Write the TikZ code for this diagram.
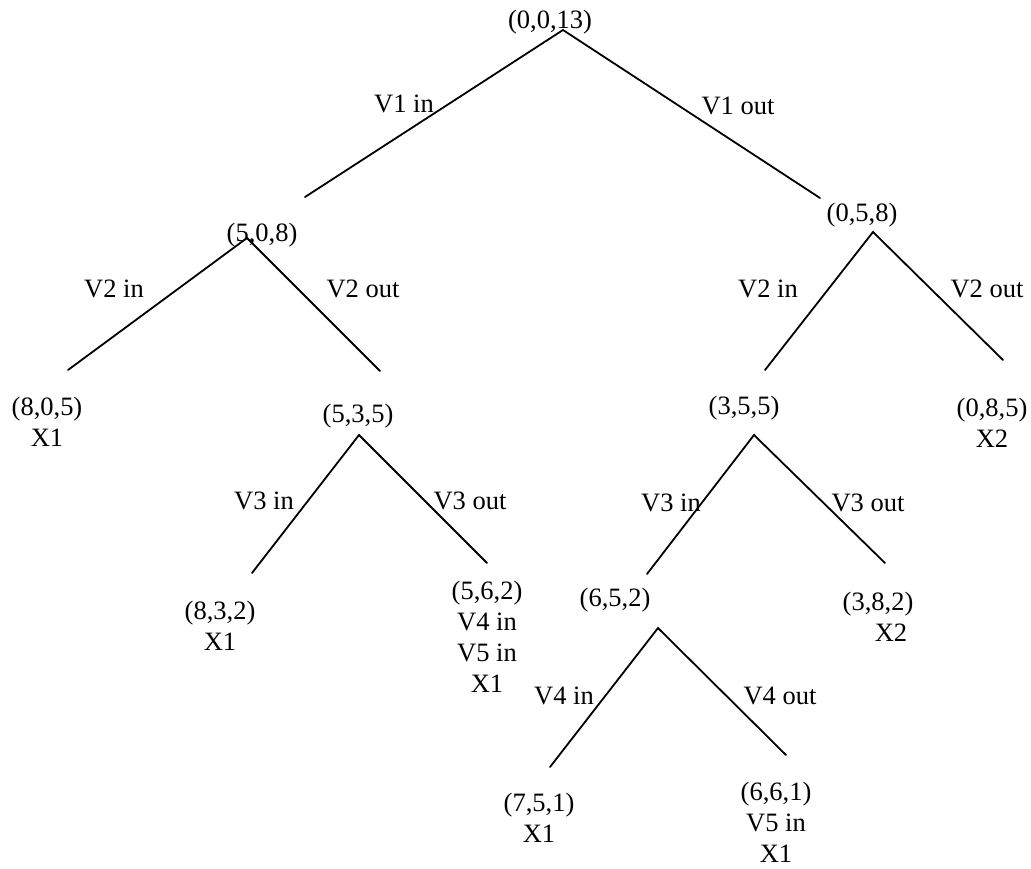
\documentclass[tikz,border=0pt]{standalone}
\usepackage{fontspec}
\setmainfont{Liberation Serif}
\begin{document}
\begin{tikzpicture}[x=1pt,y=-1pt,
  every node/.style={inner sep=0pt,outer sep=0pt,font=\fontsize{26.5}{31}\selectfont},
  state/.style={align=center},
  branch/.style={},
  edge/.style={line width=1.8pt,line cap=round}]
\useasboundingbox (0,0) rectangle (1031,868);

% states of the search
\node[state] (r)    at (550,22)  {(0,0,13)};
\node[state] (a)    at (262,235) {(5,0,8)};
\node[state] (b)    at (862,215) {(0,5,8)};
\node[state] (aa)   at (47,422)  {(8,0,5)\\X1};
\node[state] (ab)   at (358,416) {(5,3,5)};
\node[state] (ba)   at (744,408) {(3,5,5)};
\node[state] (bb)   at (992,423) {(0,8,5)\\X2};
\node[state] (aba)  at (220,626) {(8,3,2)\\X1};
\node[state] (abb)  at (487,637) {(5,6,2)\\V4 in\\V5 in\\X1};
\node[state] (baa)  at (615,600) {(6,5,2)};
\node[state] (bab)  at (878,617) {(3,8,2)\\\hspace*{26pt}X2};
\node[state] (baaa) at (539,818) {(7,5,1)\\X1};
\node[state] (baab) at (776,822) {(6,6,1)\\V5 in\\X1};

% branch end points
\coordinate (r-o)    at (563,30);
\coordinate (a-i)    at (305,197);
\coordinate (b-i)    at (820,198);
\coordinate (a-o)    at (247,238);
\coordinate (aa-i)   at (68,370);
\coordinate (ab-i)   at (380,371);
\coordinate (b-o)    at (873,232);
\coordinate (ba-i)   at (765,370);
\coordinate (bb-i)   at (1003,360);
\coordinate (ab-o)   at (359,435);
\coordinate (aba-i)  at (252,573);
\coordinate (abb-i)  at (487,563);
\coordinate (ba-o)   at (754,435);
\coordinate (baa-i)  at (647,574);
\coordinate (bab-i)  at (885,563);
\coordinate (baa-o)  at (658,628);
\coordinate (baaa-i) at (550,767);
\coordinate (baab-i) at (786,755);

% branches
\draw[edge] (a-i) -- (r-o) -- (b-i);
\draw[edge] (aa-i) -- (a-o) -- (ab-i);
\draw[edge] (ba-i) -- (b-o) -- (bb-i);
\draw[edge] (aba-i) -- (ab-o) -- (abb-i);
\draw[edge] (baa-i) -- (ba-o) -- (bab-i);
\draw[edge] (baaa-i) -- (baa-o) -- (baab-i);

% branch labels
\node[branch] (l1i)  at (404,104) {V1 in};
\node[branch] (l1o)  at (738,106) {V1 out};
\node[branch] (l2ia) at (114,289) {V2 in};
\node[branch] (l2oa) at (363,289) {V2 out};
\node[branch] (l2ib) at (768,289) {V2 in};
\node[branch] (l2ob) at (987,289) {V2 out};
\node[branch] (l3ia) at (264,501) {V3 in};
\node[branch] (l3oa) at (470,501) {V3 out};
\node[branch] (l3ib) at (671,503) {V3 in};
\node[branch] (l3ob) at (868,503) {V3 out};
\node[branch] (l4i)  at (564,696) {V4 in};
\node[branch] (l4o)  at (780,696) {V4 out};
\end{tikzpicture}
\end{document}
